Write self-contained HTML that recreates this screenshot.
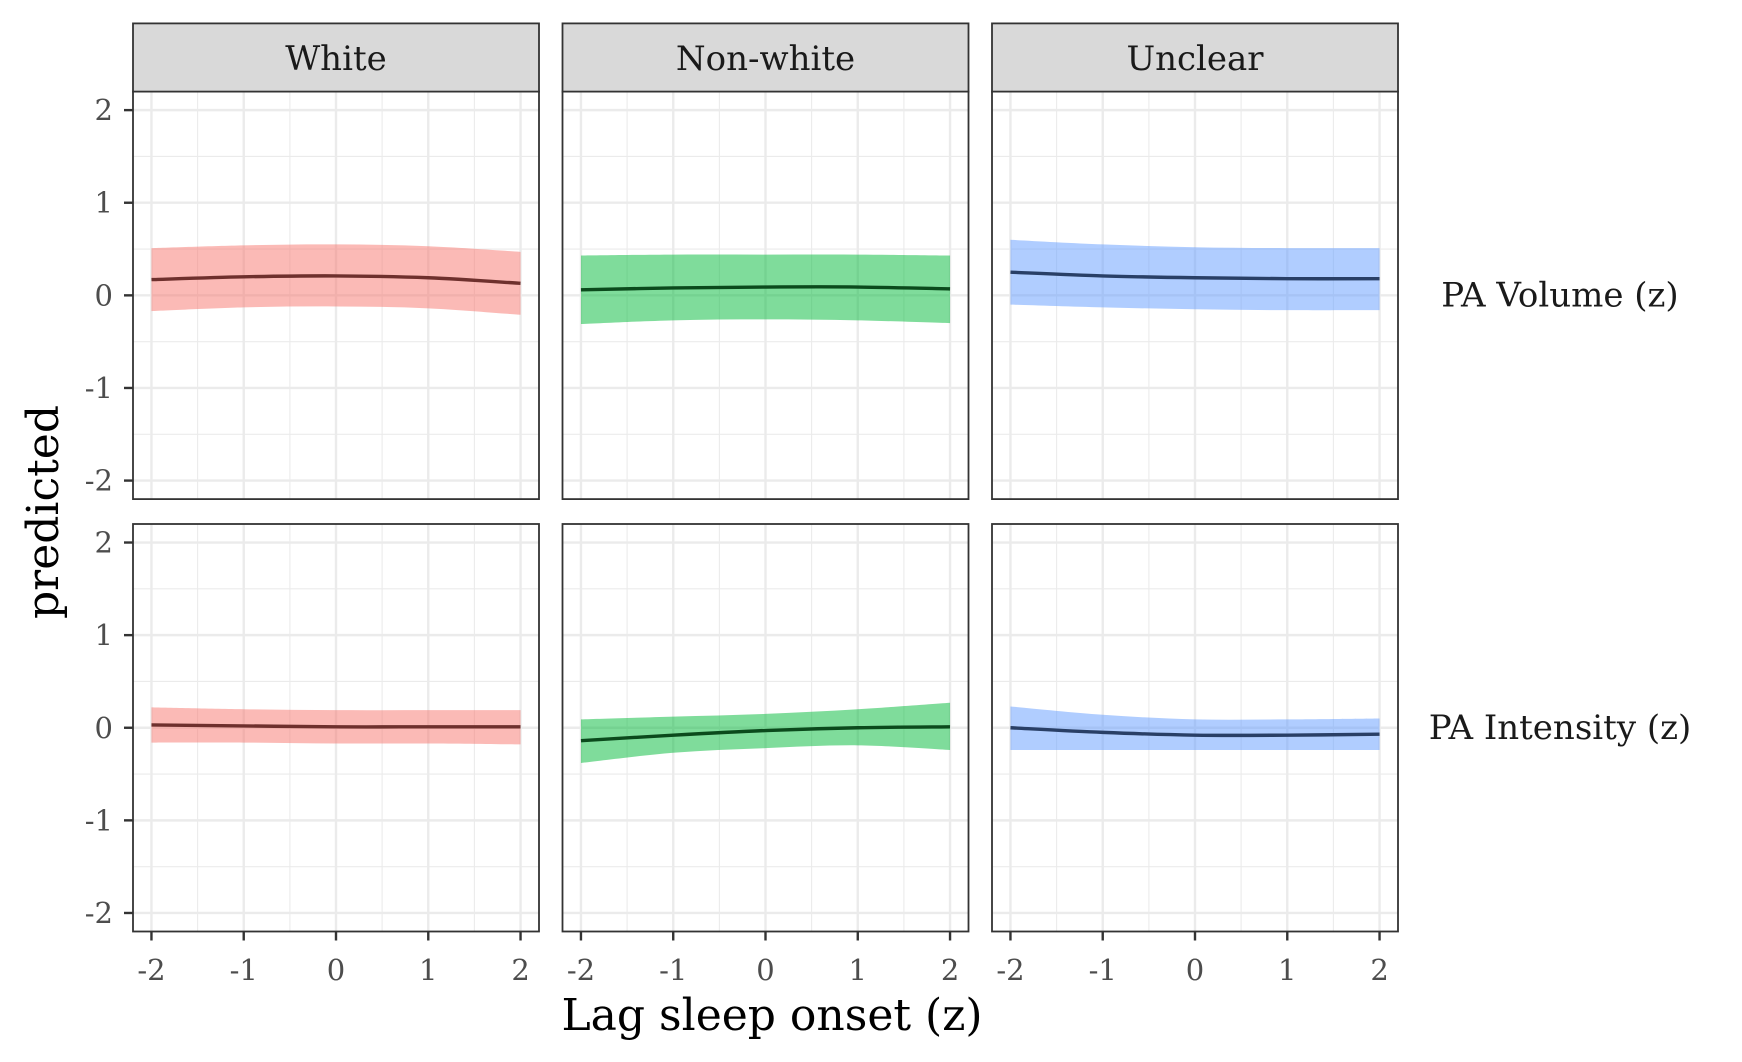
<!DOCTYPE html>
<html><head><meta charset="utf-8"><style>
html,body{margin:0;padding:0;background:#fff}
svg{display:block;font-family:"DejaVu Serif","Liberation Serif",serif}
</style></head><body>
<svg id="chart" width="1742" height="1062" viewBox="0 0 1742 1062" xmlns="http://www.w3.org/2000/svg"></svg>
<script>
const xCats = [-2, -1, 0, 1, 2];
const xTicks = ["-2", "-1", "0", "1", "2"];
const yTicks = ["-2", "-1", "0", "1", "2"];
const colGroups = ["White", "Non-white", "Unclear"];
const rowOutcomes = ["PA Volume (z)", "PA Intensity (z)"];
// PA Volume
const whiteVolFit = [0.17, 0.20, 0.21, 0.19, 0.13];
const whiteVolHi = [0.51, 0.54, 0.55, 0.53, 0.47];
const whiteVolLo = [-0.17, -0.13, -0.12, -0.14, -0.21];
const nonwhiteVolFit = [0.06, 0.08, 0.09, 0.09, 0.07];
const nonwhiteVolHi = [0.43, 0.44, 0.44, 0.44, 0.43];
const nonwhiteVolLo = [-0.31, -0.27, -0.26, -0.27, -0.30];
const unclearVolFit = [0.25, 0.21, 0.19, 0.18, 0.18];
const unclearVolHi = [0.60, 0.55, 0.52, 0.51, 0.51];
const unclearVolLo = [-0.10, -0.13, -0.15, -0.16, -0.16];
// PA Intensity
const whiteIntFit = [0.03, 0.02, 0.01, 0.01, 0.01];
const whiteIntHi = [0.22, 0.20, 0.19, 0.19, 0.19];
const whiteIntLo = [-0.16, -0.16, -0.17, -0.17, -0.18];
const nonwhiteIntFit = [-0.14, -0.08, -0.03, 0.00, 0.01];
const nonwhiteIntHi = [0.09, 0.12, 0.15, 0.20, 0.27];
const nonwhiteIntLo = [-0.38, -0.27, -0.22, -0.19, -0.24];
const unclearIntFit = [0.00, -0.05, -0.08, -0.08, -0.07];
const unclearIntHi = [0.23, 0.14, 0.09, 0.09, 0.10];
const unclearIntLo = [-0.24, -0.24, -0.24, -0.24, -0.24];

const series = [
  [[whiteVolFit,whiteVolHi,whiteVolLo],[nonwhiteVolFit,nonwhiteVolHi,nonwhiteVolLo],[unclearVolFit,unclearVolHi,unclearVolLo]],
  [[whiteIntFit,whiteIntHi,whiteIntLo],[nonwhiteIntFit,nonwhiteIntHi,nonwhiteIntLo],[unclearIntFit,unclearIntHi,unclearIntLo]]
];
const fills = ["#F8766D", "#00BA38", "#619CFF"];
const lines = ["#6e302d", "#0b4a1c", "#293f66"];

const svg = document.getElementById('chart');
const NS = "http://www.w3.org/2000/svg";
function mk(tag, attrs, parent){const e=document.createElementNS(NS,tag);for(const k in attrs)e.setAttribute(k,attrs[k]);(parent||svg).appendChild(e);return e;}

const panelW = 406, panelH = 407.5;
const colLeft = [133, 562.5, 992];
const rowTop = [91.6, 524];
const stripTop = 23.4;
function xs(c, v){return colLeft[c] + (v + 2.2) / 4.4 * panelW;}
function ys(r, v){return rowTop[r] + (2.2 - v) / 4.4 * panelH;}

function smoothPath(pts){
  let d = "M" + pts[0][0] + "," + pts[0][1];
  for(let i=0;i<pts.length-1;i++){
    const p0=pts[Math.max(0,i-1)], p1=pts[i], p2=pts[i+1], p3=pts[Math.min(pts.length-1,i+2)];
    const c1=[p1[0]+(p2[0]-p0[0])/6, p1[1]+(p2[1]-p0[1])/6];
    const c2=[p2[0]-(p3[0]-p1[0])/6, p2[1]-(p3[1]-p1[1])/6];
    d += " C"+c1[0]+","+c1[1]+" "+c2[0]+","+c2[1]+" "+p2[0]+","+p2[1];
  }
  return d;
}

for(let r=0;r<2;r++){
  for(let c=0;c<3;c++){
    const g = mk('g', {});
    
    
    mk('rect',{x:colLeft[c],y:rowTop[r],width:panelW,height:panelH,fill:'#fff'},g);
    for(let v=-2.0; v<=2.01; v+=0.5){
      if(Math.abs(v-Math.round(v))<0.01) continue;
      mk('line',{x1:colLeft[c],x2:colLeft[c]+panelW,y1:ys(r,v),y2:ys(r,v),stroke:'#ebebeb','stroke-width':1.1},g);
      mk('line',{y1:rowTop[r],y2:rowTop[r]+panelH,x1:xs(c,v),x2:xs(c,v),stroke:'#ebebeb','stroke-width':1.1},g);
    }
    for(let i=0;i<yTicks.length;i++){
      const v=+yTicks[i];
      mk('line',{x1:colLeft[c],x2:colLeft[c]+panelW,y1:ys(r,v),y2:ys(r,v),stroke:'#ebebeb','stroke-width':2.4},g);
    }
    for(let i=0;i<xTicks.length;i++){
      const v=+xTicks[i];
      mk('line',{y1:rowTop[r],y2:rowTop[r]+panelH,x1:xs(c,v),x2:xs(c,v),stroke:'#ebebeb','stroke-width':2.4},g);
    }
    const [fit,hi,lo] = series[r][c];
    const up = xCats.map((x,i)=>[xs(c,x), ys(r,hi[i])]);
    const dn = xCats.map((x,i)=>[xs(c,x), ys(r,lo[i])]).reverse();
    let dBand = smoothPath(up) + " L" + smoothPath(dn).slice(1) + " Z";
    const band = mk('path',{d:dBand,fill:fills[c],'fill-opacity':0.5},g);
    
    
    const ln = mk('path',{d:smoothPath(xCats.map((x,i)=>[xs(c,x), ys(r,fit[i])])),fill:'none',stroke:lines[c],'stroke-width':3.4},g);
    
    
    mk('rect',{x:colLeft[c],y:rowTop[r],width:panelW,height:panelH,fill:'none',stroke:'#333','stroke-width':1.8},g);
  }
}
for(let c=0;c<3;c++){
  const s = mk('rect',{x:colLeft[c],y:stripTop,width:panelW,height:rowTop[0]-stripTop,fill:'#d9d9d9',stroke:'#333','stroke-width':1.8});
  
  
  const t = mk('text',{x:colLeft[c]+panelW/2,y:70,'text-anchor':'middle','font-size':34,fill:'#1a1a1a'});
  t.textContent = colGroups[c];
  
  
}
for(let r=0;r<2;r++){
  const t = mk('text',{x:1560,y:ys(r,0)+11,'text-anchor':'middle','font-size':34,fill:'#1a1a1a'});
  t.textContent = rowOutcomes[r];
  
  
}
for(let r=0;r<2;r++){
  for(let i=0;i<yTicks.length;i++){
    const v=+yTicks[i];
    mk('line',{x1:124,x2:133,y1:ys(r,v),y2:ys(r,v),stroke:'#333','stroke-width':2.4});
    const t = mk('text',{x:113,y:ys(r,v)+10,'text-anchor':'end','font-size':29,fill:'#4d4d4d'});
    t.textContent = yTicks[i];
    
    
  }
}
for(let c=0;c<3;c++){
  for(let i=0;i<xTicks.length;i++){
    const v=+xTicks[i];
    const yb=rowTop[1]+panelH;
    mk('line',{x1:xs(c,v),x2:xs(c,v),y1:yb,y2:yb+9,stroke:'#333','stroke-width':2.4});
    const t = mk('text',{x:xs(c,v),y:980,'text-anchor':'middle','font-size':29,fill:'#4d4d4d'});
    t.textContent = xTicks[i];
    
    
  }
}
const xt = mk('text',{x:772,y:1030,'text-anchor':'middle','font-size':44,fill:'#000'});
xt.textContent = 'Lag sleep onset (z)';


const yt = mk('text',{x:0,y:0,'text-anchor':'middle','font-size':44,fill:'#000',transform:'translate(58,512) rotate(-90)'});
yt.textContent = 'predicted';


</script>
</body></html>
